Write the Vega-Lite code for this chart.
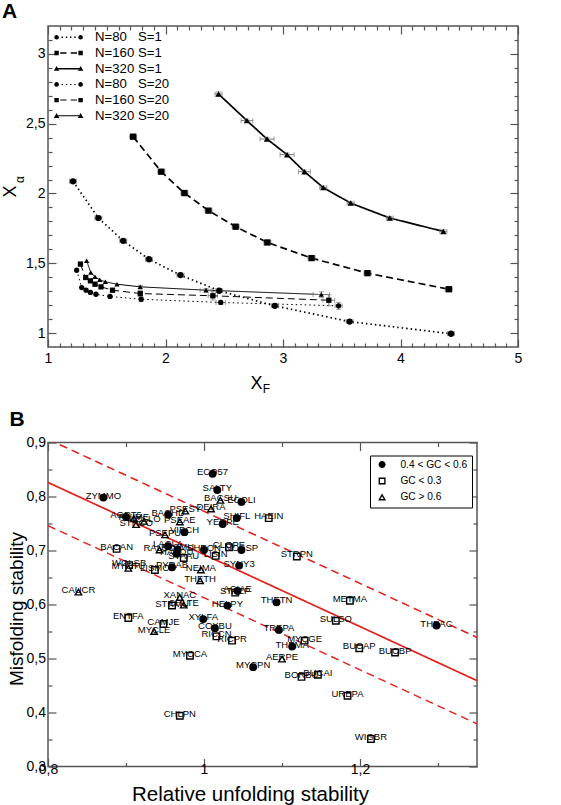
{
"$schema": "https://vega.github.io/schema/vega-lite/v6.json",
"padding": {"left": 0, "top": 0, "right": 0, "bottom": 0},
"spacing": 13.5,
"resolve": {"scale": {"shape": "independent", "fill": "independent", "strokeDash": "independent", "strokeWidth": "independent", "size": "independent", "color": "independent"}, "legend": {"shape": "independent", "fill": "independent"}},
"config": {
  "font": "Liberation Sans",
  "view": {"stroke": "#555", "strokeWidth": 1.5},
  "axis": {"domain": false, "grid": false, "tickColor": "#555", "tickWidth": 1.2, "labelFont": "Liberation Sans", "titleFont": "Liberation Sans", "labelColor": "#000", "titleColor": "#000", "titleFontWeight": "normal", "labelFlush": false, "labelOverlap": false, "labelFontSize": 14},
  "title": {"font": "Liberation Sans", "fontWeight": "bold", "fontSize": 21, "anchor": "start", "frame": "bounds", "baseline": "alphabetic", "color": "#000"}
},
"vconcat": [
{"hconcat": [
{
  "title": {"text": "A", "offset": 3.3, "dx": 1},
  "width": 470, "height": 321,
  "data": {"values": [
    {"N":80,"S":1,"x":1.213,"y":2.087,"ex":0.03,"ey":0.012},
    {"N":80,"S":1,"x":1.429,"y":1.824,"ex":0.03,"ey":0.012},
    {"N":80,"S":1,"x":1.640,"y":1.661,"ex":0.03,"ey":0.012},
    {"N":80,"S":1,"x":1.859,"y":1.529,"ex":0.03,"ey":0.012},
    {"N":80,"S":1,"x":2.127,"y":1.415,"ex":0.03,"ey":0.012},
    {"N":80,"S":1,"x":2.457,"y":1.303,"ex":0.03,"ey":0.012},
    {"N":80,"S":1,"x":2.930,"y":1.195,"ex":0.03,"ey":0.012},
    {"N":80,"S":1,"x":3.567,"y":1.082,"ex":0.03,"ey":0.012},
    {"N":80,"S":1,"x":4.430,"y":0.995,"ex":0.03,"ey":0.012},
    {"N":160,"S":1,"x":1.725,"y":2.407,"ex":0.03,"ey":0.012},
    {"N":160,"S":1,"x":1.964,"y":2.156,"ex":0.03,"ey":0.012},
    {"N":160,"S":1,"x":2.161,"y":2.003,"ex":0.03,"ey":0.012},
    {"N":160,"S":1,"x":2.366,"y":1.877,"ex":0.03,"ey":0.012},
    {"N":160,"S":1,"x":2.597,"y":1.762,"ex":0.03,"ey":0.012},
    {"N":160,"S":1,"x":2.867,"y":1.649,"ex":0.03,"ey":0.012},
    {"N":160,"S":1,"x":3.243,"y":1.537,"ex":0.03,"ey":0.012},
    {"N":160,"S":1,"x":3.719,"y":1.429,"ex":0.03,"ey":0.012},
    {"N":160,"S":1,"x":4.411,"y":1.314,"ex":0.03,"ey":0.012},
    {"N":320,"S":1,"x":2.451,"y":2.713,"ex":0.03,"ey":0.015},
    {"N":320,"S":1,"x":2.693,"y":2.522,"ex":0.05,"ey":0.012},
    {"N":320,"S":1,"x":2.864,"y":2.390,"ex":0.06,"ey":0.012},
    {"N":320,"S":1,"x":3.035,"y":2.278,"ex":0.06,"ey":0.012},
    {"N":320,"S":1,"x":3.183,"y":2.156,"ex":0.05,"ey":0.012},
    {"N":320,"S":1,"x":3.343,"y":2.042,"ex":0.03,"ey":0.012},
    {"N":320,"S":1,"x":3.576,"y":1.931,"ex":0.03,"ey":0.012},
    {"N":320,"S":1,"x":3.909,"y":1.824,"ex":0.03,"ey":0.012},
    {"N":320,"S":1,"x":4.365,"y":1.728,"ex":0.03,"ey":0.012},
    {"N":80,"S":20,"x":1.244,"y":1.450,"ex":0,"ey":0},
    {"N":80,"S":20,"x":1.287,"y":1.326,"ex":0,"ey":0},
    {"N":80,"S":20,"x":1.324,"y":1.307,"ex":0,"ey":0},
    {"N":80,"S":20,"x":1.361,"y":1.291,"ex":0,"ey":0},
    {"N":80,"S":20,"x":1.408,"y":1.278,"ex":0,"ey":0},
    {"N":80,"S":20,"x":1.528,"y":1.262,"ex":0,"ey":0},
    {"N":80,"S":20,"x":1.793,"y":1.242,"ex":0,"ey":0.015},
    {"N":80,"S":20,"x":2.470,"y":1.219,"ex":0.04,"ey":0.015},
    {"N":80,"S":20,"x":3.473,"y":1.195,"ex":0.03,"ey":0.025},
    {"N":160,"S":20,"x":1.276,"y":1.494,"ex":0,"ey":0},
    {"N":160,"S":20,"x":1.321,"y":1.398,"ex":0,"ey":0},
    {"N":160,"S":20,"x":1.361,"y":1.374,"ex":0,"ey":0},
    {"N":160,"S":20,"x":1.400,"y":1.350,"ex":0,"ey":0},
    {"N":160,"S":20,"x":1.451,"y":1.331,"ex":0,"ey":0},
    {"N":160,"S":20,"x":1.549,"y":1.307,"ex":0,"ey":0},
    {"N":160,"S":20,"x":1.785,"y":1.283,"ex":0,"ey":0.02},
    {"N":160,"S":20,"x":2.403,"y":1.267,"ex":0.04,"ey":0.03},
    {"N":160,"S":20,"x":3.390,"y":1.235,"ex":0.05,"ey":0.04},
    {"N":320,"S":20,"x":1.329,"y":1.518,"ex":0,"ey":0},
    {"N":320,"S":20,"x":1.364,"y":1.434,"ex":0,"ey":0},
    {"N":320,"S":20,"x":1.400,"y":1.403,"ex":0,"ey":0},
    {"N":320,"S":20,"x":1.440,"y":1.382,"ex":0,"ey":0},
    {"N":320,"S":20,"x":1.488,"y":1.367,"ex":0,"ey":0},
    {"N":320,"S":20,"x":1.587,"y":1.350,"ex":0,"ey":0},
    {"N":320,"S":20,"x":1.785,"y":1.331,"ex":0,"ey":0.01},
    {"N":320,"S":20,"x":2.345,"y":1.307,"ex":0.05,"ey":0.012},
    {"N":320,"S":20,"x":3.326,"y":1.276,"ex":0.07,"ey":0.02}
  ]},
  "resolve": {"axis": {"x": "independent", "y": "independent"}, "scale": {"shape": "independent", "size": "independent"}},
  "layer": [
    {
      "mark": {"type": "line", "color": "#000"},
      "encoding": {
        "x": {"field": "x", "type": "quantitative", "scale": {"domain": [1, 5], "nice": false, "zero": false},
              "axis": {"orient": "bottom", "values": [1,2,3,4,5], "tickSize": -8, "labelPadding": 19, "labelBaseline": "middle", "labelExpr": "replace(format(datum.value, '~g'), '.', ',')", "title": "X", "titleFontSize": 18, "titleX": 208, "titleY": 36, "titleAlign": "center", "titleBaseline": "middle", "titleAngle": 0}},
        "y": {"field": "y", "type": "quantitative", "scale": {"domain": [0.9, 3.2], "nice": false, "zero": false},
              "axis": {"orient": "left", "values": [1,1.5,2,2.5,3], "tickSize": -8, "labelPadding": 11, "labelExpr": "replace(format(datum.value, '~g'), '.', ',')", "title": "X", "titleFontSize": 18, "titleX": -38, "titleY": 165, "titleAlign": "center", "titleBaseline": "middle", "titleAngle": -90}},
        "detail": [{"field": "N", "type": "nominal"}, {"field": "S", "type": "nominal"}],
        "strokeDash": {"field": "N", "type": "ordinal", "scale": {"domain": [80,160,320], "range": [[1.5,3],[7,4],[1,0]]}, "legend": null},
        "strokeWidth": {"field": "S", "type": "ordinal", "scale": {"domain": [1,20], "range": [1.7,1]}, "legend": null}
      }
    },
    {
      "transform": [{"filter": "datum.ey > 0"}],
      "mark": {"type": "errorbar", "color": "#777", "ticks": {"size": 5}},
      "encoding": {
        "x": {"field": "x", "type": "quantitative", "axis": null},
        "y": {"field": "y", "type": "quantitative", "axis": null},
        "yError": {"field": "ey"}
      }
    },
    {
      "transform": [{"filter": "datum.ex > 0"}],
      "mark": {"type": "errorbar", "color": "#777", "ticks": {"size": 5}},
      "encoding": {
        "x": {"field": "x", "type": "quantitative", "axis": null},
        "y": {"field": "y", "type": "quantitative", "axis": null},
        "xError": {"field": "ex"}
      }
    },
    {
      "mark": {"type": "point", "filled": true, "color": "#000", "opacity": 1},
      "encoding": {
        "x": {"field": "x", "type": "quantitative",
              "axis": {"orient": "bottom", "values": [1.1,1.2,1.3,1.4,1.5,1.6,1.7,1.8,1.9,2.1,2.2,2.3,2.4,2.5,2.6,2.7,2.8,2.9,3.1,3.2,3.3,3.4,3.5,3.6,3.7,3.8,3.9,4.1,4.2,4.3,4.4,4.5,4.6,4.7,4.8,4.9], "tickSize": -4, "labels": false, "title": "F", "titleFontSize": 12, "titleX": 218, "titleY": 41, "titleAlign": "center", "titleBaseline": "middle", "titleAngle": 0}},
        "y": {"field": "y", "type": "quantitative",
              "axis": {"orient": "left", "values": [1.1,1.2,1.3,1.4,1.6,1.7,1.8,1.9,2.1,2.2,2.3,2.4,2.6,2.7,2.8,2.9,3.1], "tickSize": -4, "labels": false, "title": "α", "titleFontSize": 12, "titleX": -28.5, "titleY": 153, "titleAlign": "center", "titleBaseline": "middle", "titleAngle": -90}},
        "shape": {"field": "N", "type": "ordinal", "scale": {"domain": [80,160,320], "range": ["circle","square","triangle-up"]}, "legend": null},
        "size": {"field": "S", "type": "ordinal", "scale": {"domain": [1,20], "range": [40,28]}, "legend": null}
      }
    },
    {
      "transform": [{"filter": "false"}],
      "mark": {"type": "point", "filled": true, "color": "#000", "opacity": 1, "size": 100},
      "encoding": {
        "x": {"field": "x", "type": "quantitative", "axis": {"orient": "top", "values": [1,2,3,4,5], "tickSize": -8, "labels": false, "title": null}},
        "y": {"field": "y", "type": "quantitative", "axis": {"orient": "right", "values": [1,1.5,2,2.5,3], "tickSize": -8, "labels": false, "title": null}},
        "shape": {"field": "series", "type": "nominal",
          "scale": {"domain": ["N=80\u00a0\u00a0\u00a0S=1","N=160\u00a0S=1","N=320\u00a0S=1","N=80\u00a0\u00a0\u00a0S=20","N=160\u00a0S=20","N=320\u00a0S=20"],
                    "range": [
"M-2.86 0A0.46 0.46 0 1 0 -1.94 0A0.46 0.46 0 1 0 -2.86 0ZM1.94 0A0.46 0.46 0 1 0 2.86 0A0.46 0.46 0 1 0 1.94 0ZM-1.4 -0.16H-1.12V0.16H-1.4ZM-0.56 -0.16H-0.28V0.16H-0.56ZM0.28 -0.16H0.56V0.16H0.28ZM1.12 -0.16H1.4V0.16H1.12Z",
"M-2.84 -0.44H-1.96V0.44H-2.84ZM1.96 -0.44H2.84V0.44H1.96ZM-1.68 -0.16H-0.42V0.16H-1.68ZM0.42 -0.16H1.68V0.16H0.42Z",
"M-2.96 0.42L-1.84 0.42L-2.4 -0.56ZM1.84 0.42L2.96 0.42L2.4 -0.56ZM-2.1 -0.16H2.1V0.16H-2.1Z",
"M-2.86 0A0.46 0.46 0 1 0 -1.94 0A0.46 0.46 0 1 0 -2.86 0ZM1.94 0A0.46 0.46 0 1 0 2.86 0A0.46 0.46 0 1 0 1.94 0ZM-1.4 -0.1H-1.12V0.1H-1.4ZM-0.56 -0.1H-0.28V0.1H-0.56ZM0.28 -0.1H0.56V0.1H0.28ZM1.12 -0.1H1.4V0.1H1.12Z",
"M-2.84 -0.44H-1.96V0.44H-2.84ZM1.96 -0.44H2.84V0.44H1.96ZM-1.68 -0.1H-0.42V0.1H-1.68ZM0.42 -0.1H1.68V0.1H0.42Z",
"M-2.96 0.42L-1.84 0.42L-2.4 -0.56ZM1.84 0.42L2.96 0.42L2.4 -0.56ZM-2.1 -0.1H2.1V0.1H-2.1Z"
                    ]},
          "legend": {"orient": "none", "legendX": 5, "legendY": 4.7, "title": null, "symbolSize": 100, "symbolOffset": 9, "labelOffset": 19.8, "symbolStrokeWidth": 0, "symbolFillColor": "#000", "labelFontSize": 13.2, "labelFont": "Liberation Sans", "labelColor": "#000", "rowPadding": 1.7, "padding": 0}
        }
      }
    },
    {
      "transform": [{"filter": "false"}],
      "mark": {"type": "point"},
      "encoding": {
        "x": {"field": "x", "type": "quantitative", "axis": {"orient": "top", "values": [1.1,1.2,1.3,1.4,1.5,1.6,1.7,1.8,1.9,2.1,2.2,2.3,2.4,2.5,2.6,2.7,2.8,2.9,3.1,3.2,3.3,3.4,3.5,3.6,3.7,3.8,3.9,4.1,4.2,4.3,4.4,4.5,4.6,4.7,4.8,4.9], "tickSize": -4, "labels": false, "title": null}},
        "y": {"field": "y", "type": "quantitative", "axis": {"orient": "right", "values": [1.1,1.2,1.3,1.4,1.6,1.7,1.8,1.9,2.1,2.2,2.3,2.4,2.6,2.7,2.8,2.9,3.1], "tickSize": -4, "labels": false, "title": null}}
      }
    }
  ]
}
]},
{"hconcat": [
{
  "title": {"text": "B", "offset": 5.2, "dx": 2},
  "width": 429, "height": 324,
  "data": {"values": [
    {"n":"ZYMMO","g":"m","x":0.871,"y":0.798},
    {"n":"ECO57","g":"m","x":1.011,"y":0.842},
    {"n":"SALTY","g":"m","x":1.017,"y":0.812},
    {"n":"BACSU","g":"h","x":1.021,"y":0.793},
    {"n":"ECOLI","g":"m","x":1.048,"y":0.790},
    {"n":"DEIRA","g":"h","x":1.009,"y":0.777},
    {"n":"PSESY","g":"h","x":0.976,"y":0.773},
    {"n":"BACHD","g":"m","x":0.954,"y":0.766},
    {"n":"PSEAE","g":"h","x":0.969,"y":0.753},
    {"n":"VIBCH","g":"m","x":0.975,"y":0.734},
    {"n":"PSEPU","g":"h","x":0.950,"y":0.729},
    {"n":"YERPE","g":"m","x":1.024,"y":0.749},
    {"n":"SHIFL","g":"m","x":1.042,"y":0.760},
    {"n":"HAEIN","g":"l","x":1.083,"y":0.760},
    {"n":"AGRT5","g":"m","x":0.900,"y":0.762},
    {"n":"RHIME","g":"h","x":0.910,"y":0.759},
    {"n":"MESLO","g":"h","x":0.923,"y":0.754},
    {"n":"STRCO","g":"h","x":0.913,"y":0.748},
    {"n":"BACAN","g":"l","x":0.888,"y":0.703},
    {"n":"RALSO","g":"h","x":0.943,"y":0.701},
    {"n":"LACLA","g":"m","x":0.954,"y":0.708},
    {"n":"PASMU","g":"m","x":0.966,"y":0.702},
    {"n":"HAEDU","g":"m","x":0.965,"y":0.694},
    {"n":"STAAU","g":"l","x":0.974,"y":0.686},
    {"n":"SHEON","g":"m","x":1.000,"y":0.701},
    {"n":"CLOPE","g":"l","x":1.032,"y":0.706},
    {"n":"NOSSP","g":"m","x":1.048,"y":0.701},
    {"n":"LISIN","g":"l","x":1.015,"y":0.690},
    {"n":"SYNY3","g":"m","x":1.045,"y":0.672},
    {"n":"NEIMA","g":"h","x":0.996,"y":0.664},
    {"n":"THETH","g":"h","x":0.995,"y":0.644},
    {"n":"PYRAB","g":"m","x":0.959,"y":0.669},
    {"n":"LISMO","g":"l","x":0.937,"y":0.664},
    {"n":"WOLSB","g":"l","x":0.904,"y":0.673},
    {"n":"MYCTU","g":"h","x":0.903,"y":0.667},
    {"n":"CAUCR","g":"h","x":0.839,"y":0.623},
    {"n":"XANAC","g":"h","x":0.969,"y":0.613},
    {"n":"STRMU","g":"l","x":0.959,"y":0.598},
    {"n":"CHLTE","g":"h","x":0.974,"y":0.599},
    {"n":"ENTFA","g":"l","x":0.903,"y":0.575},
    {"n":"CAMJE","g":"l","x":0.948,"y":0.564},
    {"n":"MYCLE","g":"h","x":0.936,"y":0.550},
    {"n":"XYLFA","g":"m","x":0.999,"y":0.573},
    {"n":"COXBU","g":"m","x":1.014,"y":0.556},
    {"n":"RICCN","g":"l","x":1.016,"y":0.541},
    {"n":"RICPR","g":"l","x":1.036,"y":0.533},
    {"n":"HELPY","g":"m","x":1.030,"y":0.598},
    {"n":"STAEP","g":"l","x":1.040,"y":0.622},
    {"n":"ACIAE","g":"m","x":1.043,"y":0.625},
    {"n":"MYCCA","g":"l","x":0.982,"y":0.505},
    {"n":"MYCPN","g":"m","x":1.063,"y":0.484},
    {"n":"STRPN","g":"l","x":1.119,"y":0.689},
    {"n":"METMA","g":"l","x":1.187,"y":0.607},
    {"n":"SULSO","g":"l","x":1.169,"y":0.570},
    {"n":"THEAC","g":"m","x":1.298,"y":0.561},
    {"n":"THETN","g":"m","x":1.093,"y":0.604},
    {"n":"TREPA","g":"m","x":1.096,"y":0.553},
    {"n":"MYCGE","g":"l","x":1.129,"y":0.533},
    {"n":"THEMA","g":"m","x":1.113,"y":0.522},
    {"n":"BUCAP","g":"l","x":1.199,"y":0.519},
    {"n":"BUCBP","g":"l","x":1.245,"y":0.511},
    {"n":"AERPE","g":"h","x":1.100,"y":0.499},
    {"n":"BORBU","g":"l","x":1.125,"y":0.466},
    {"n":"BUCAI","g":"l","x":1.146,"y":0.470},
    {"n":"UREPA","g":"l","x":1.184,"y":0.431},
    {"n":"CHLPN","g":"l","x":0.969,"y":0.394},
    {"n":"WIGBR","g":"l","x":1.214,"y":0.351}
  ]},
  "resolve": {"axis": {"x": "independent", "y": "independent"}, "scale": {"shape": "independent"}},
  "layer": [
    {
      "data": {"values": [
        {"ln":"fit","x":0.8,"y":0.826},{"ln":"fit","x":1.35,"y":0.459},
        {"ln":"up","x":0.8,"y":0.906},{"ln":"up","x":1.35,"y":0.539},
        {"ln":"lo","x":0.8,"y":0.746},{"ln":"lo","x":1.35,"y":0.379}
      ]},
      "mark": {"type": "line", "color": "#e3201b", "clip": true},
      "encoding": {
        "x": {"field": "x", "type": "quantitative", "scale": {"domain": [0.8, 1.35], "nice": false, "zero": false},
              "axis": {"orient": "bottom", "values": [0.8,1,1.2], "tickSize": -8, "labelPadding": 11, "labelBaseline": "middle", "labelFontSize": 14, "labelExpr": "replace(format(datum.value, '~g'), '.', ',')", "title": "Relative unfolding stability", "titleFontSize": 20.5, "titleX": 202, "titleY": 28, "titleAlign": "center", "titleBaseline": "middle", "titleAngle": 0}},
        "y": {"field": "y", "type": "quantitative", "scale": {"domain": [0.3, 0.9], "nice": false, "zero": false},
              "axis": {"orient": "left", "values": [0.3,0.4,0.5,0.6,0.7,0.8,0.9], "tickSize": -8, "labelPadding": 10.5, "labelFontSize": 14, "labelExpr": "replace(format(datum.value, '~g'), '.', ',')", "title": "Misfolding stability", "titleFontSize": 19, "titleX": -31.5, "titleY": 166, "titlePadding": -7, "titleAlign": "center", "titleBaseline": "middle", "titleAngle": -90}},
        "strokeDash": {"field": "ln", "type": "ordinal", "scale": {"domain": ["fit","up","lo"], "range": [[1,0],[8,5],[8,5]]}, "legend": null},
        "strokeWidth": {"field": "ln", "type": "ordinal", "scale": {"domain": ["fit","up","lo"], "range": [1.7,1.4,1.4]}, "legend": null}
      }
    },
    {
      "mark": {"type": "point", "filled": false, "color": "#000", "strokeWidth": 1.4, "size": 42, "opacity": 1},
      "encoding": {
        "x": {"field": "x", "type": "quantitative", "axis": {"orient": "bottom", "values": [0.9,1.1,1.3], "tickSize": -4, "labels": false, "title": null}},
        "y": {"field": "y", "type": "quantitative", "axis": {"orient": "left", "values": [0.35,0.45,0.55,0.65,0.75,0.85], "tickSize": -4, "labels": false, "title": null}},
        "shape": {"field": "g", "type": "nominal", "scale": {"domain": ["m","l","h"], "range": ["circle","square","triangle-up"]}, "legend": null},
        "fill": {"field": "g", "type": "nominal", "scale": {"domain": ["m","l","h"], "range": ["#000","#fff","#fff"]}, "legend": null}
      }
    },
    {
      "mark": {"type": "text", "fontSize": 9.5, "font": "Liberation Sans", "align": "center", "baseline": "alphabetic", "dy": 1, "color": "#000"},
      "encoding": {
        "x": {"field": "x", "type": "quantitative", "axis": {"orient": "top", "values": [0.8,1,1.2], "tickSize": -8, "labels": false, "title": null}},
        "y": {"field": "y", "type": "quantitative", "axis": {"orient": "right", "values": [0.3,0.4,0.5,0.6,0.7,0.8,0.9], "tickSize": -8, "labels": false, "title": null}},
        "text": {"field": "n", "type": "nominal"}
      }
    },
    {
      "transform": [{"filter": "false"}],
      "mark": {"type": "point", "filled": true, "color": "#000", "opacity": 1, "size": 100},
      "encoding": {
        "x": {"field": "x", "type": "quantitative", "axis": {"orient": "top", "values": [0.9,1.1,1.3], "tickSize": -4, "labels": false, "title": null}},
        "y": {"field": "y", "type": "quantitative", "axis": {"orient": "right", "values": [0.35,0.45,0.55,0.65,0.75,0.85], "tickSize": -4, "labels": false, "title": null}},
        "shape": {"field": "g", "type": "nominal",
          "scale": {"domain": ["m","l","h"], "range": [
"M-0.7 0A0.7 0.7 0 1 0 0.7 0A0.7 0.7 0 1 0 -0.7 0Z",
"M-0.7 -0.7H0.7V0.7H-0.7ZM-0.42 -0.42V0.42H0.42V-0.42Z",
"M0 -0.8L0.8 0.6L-0.8 0.6ZM0 -0.236L-0.318 0.32L0.318 0.32Z"
          ]},
          "legend": {"orient": "none", "legendX": 322, "legendY": 13, "title": null, "labelExpr": "datum.label == 'm' ? '0.4 < GC < 0.6' : datum.label == 'l' ? 'GC < 0.3' : 'GC > 0.6'", "strokeColor": "#000", "fillColor": "#fff", "padding": 4, "symbolSize": 100, "symbolStrokeWidth": 0, "symbolFillColor": "#000", "symbolOffset": 3, "labelOffset": 13.2, "labelFontSize": 10.2, "labelFont": "Liberation Sans", "labelColor": "#000", "rowPadding": 5.4, "cornerRadius": 0}
        }
      }
    }
  ]
}
]}
]
}
